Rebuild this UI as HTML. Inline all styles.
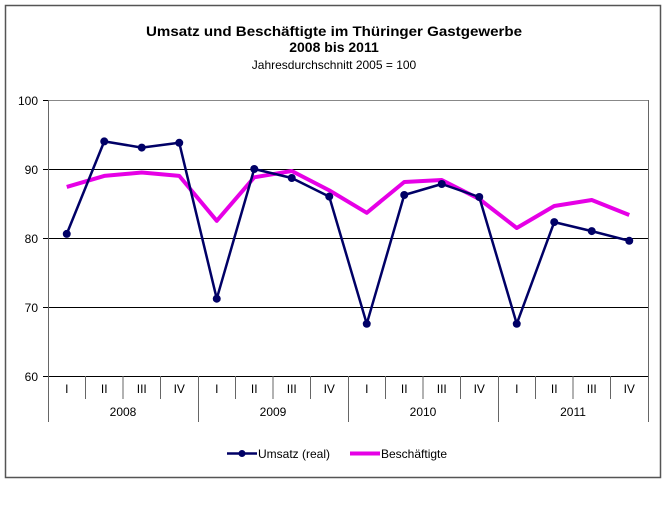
<!DOCTYPE html>
<html><head><meta charset="utf-8"><style>body{margin:0;background:#fff}svg{display:block;font-family:"Liberation Sans",Arial,sans-serif}</style></head><body>
<svg width="668" height="527" viewBox="0 0 668 527" xmlns="http://www.w3.org/2000/svg">
<rect x="5.5" y="5.5" width="655" height="472" fill="#fff" stroke="#555" stroke-width="1.5"/>
<text x="334" y="36" text-anchor="middle" font-size="14" font-weight="bold" textLength="376" lengthAdjust="spacingAndGlyphs">Umsatz und Beschäftigte im Thüringer Gastgewerbe</text>
<text x="334" y="52" text-anchor="middle" font-size="14" font-weight="bold">2008 bis 2011</text>
<text x="334" y="69" text-anchor="middle" font-size="12">Jahresdurchschnitt 2005 = 100</text>
<g stroke="#000" stroke-width="1">
<line x1="48" y1="100.5" x2="648" y2="100.5" stroke="#888"/>
<line x1="48" y1="169.5" x2="648" y2="169.5"/>
<line x1="48" y1="238.5" x2="648" y2="238.5"/>
<line x1="48" y1="307.5" x2="648" y2="307.5"/>
<line x1="48" y1="376.5" x2="648" y2="376.5"/>
<line x1="48.5" y1="100" x2="48.5" y2="422" stroke="#666"/>
<line x1="648.5" y1="100" x2="648.5" y2="422" stroke="#666"/>
<line x1="43" y1="100.5" x2="48" y2="100.5"/><line x1="43" y1="169.5" x2="48" y2="169.5"/><line x1="43" y1="238.5" x2="48" y2="238.5"/><line x1="43" y1="307.5" x2="48" y2="307.5"/><line x1="43" y1="376.5" x2="48" y2="376.5"/>
</g>
<g stroke="#666" stroke-width="1">
<line x1="85.5" y1="376" x2="85.5" y2="399"/><line x1="123" y1="376" x2="123" y2="399"/><line x1="160.5" y1="376" x2="160.5" y2="399"/>
<line x1="198.5" y1="376" x2="198.5" y2="422"/>
<line x1="235.5" y1="376" x2="235.5" y2="399"/><line x1="273" y1="376" x2="273" y2="399"/><line x1="310.5" y1="376" x2="310.5" y2="399"/>
<line x1="348.5" y1="376" x2="348.5" y2="422"/>
<line x1="385.5" y1="376" x2="385.5" y2="399"/><line x1="423" y1="376" x2="423" y2="399"/><line x1="460.5" y1="376" x2="460.5" y2="399"/>
<line x1="498.5" y1="376" x2="498.5" y2="422"/>
<line x1="535.5" y1="376" x2="535.5" y2="399"/><line x1="573" y1="376" x2="573" y2="399"/><line x1="610.5" y1="376" x2="610.5" y2="399"/>
</g>
<g font-size="12" text-anchor="end">
<text x="38" y="105">100</text><text x="38" y="174">90</text><text x="38" y="243">80</text><text x="38" y="312">70</text><text x="38" y="381">60</text>
</g>
<g font-size="12" text-anchor="middle">
<text x="66.75" y="393">I</text><text x="104.25" y="393">II</text><text x="141.75" y="393">III</text><text x="179.25" y="393">IV</text>
<text x="216.75" y="393">I</text><text x="254.25" y="393">II</text><text x="291.75" y="393">III</text><text x="329.25" y="393">IV</text>
<text x="366.75" y="393">I</text><text x="404.25" y="393">II</text><text x="441.75" y="393">III</text><text x="479.25" y="393">IV</text>
<text x="516.75" y="393">I</text><text x="554.25" y="393">II</text><text x="591.75" y="393">III</text><text x="629.25" y="393">IV</text>
<text x="123" y="416">2008</text><text x="273" y="416">2009</text><text x="423" y="416">2010</text><text x="573" y="416">2011</text>
</g>
<polyline fill="none" stroke="#e600e6" stroke-width="4" stroke-linejoin="round" points="66.75,186.9 104.25,175.9 141.75,172.5 179.25,175.9 216.75,220.8 254.25,177.3 291.75,171.0 329.25,190.4 366.75,212.8 404.25,182.0 441.75,180.0 479.25,199.0 516.75,228.0 554.25,206.0 591.75,200.0 629.25,215.0"/>
<polyline fill="none" stroke="#000066" stroke-width="2.5" stroke-linejoin="round" points="66.75,233.9 104.25,141.4 141.75,147.6 179.25,142.8 216.75,298.7 254.25,169.0 291.75,178.0 329.25,196.6 366.75,323.8 404.25,195.0 441.75,184.0 479.25,197.0 516.75,323.8 554.25,222.1 591.75,231.1 629.25,240.8"/>
<g fill="#000066">
<circle cx="66.75" cy="233.9" r="4"/><circle cx="104.25" cy="141.4" r="4"/><circle cx="141.75" cy="147.6" r="4"/><circle cx="179.25" cy="142.8" r="4"/><circle cx="216.75" cy="298.7" r="4"/><circle cx="254.25" cy="169.0" r="4"/><circle cx="291.75" cy="178.0" r="4"/><circle cx="329.25" cy="196.6" r="4"/><circle cx="366.75" cy="323.8" r="4"/><circle cx="404.25" cy="195.0" r="4"/><circle cx="441.75" cy="184.0" r="4"/><circle cx="479.25" cy="197.0" r="4"/><circle cx="516.75" cy="323.8" r="4"/><circle cx="554.25" cy="222.1" r="4"/><circle cx="591.75" cy="231.1" r="4"/><circle cx="629.25" cy="240.8" r="4"/>
</g>
<line x1="227" y1="453.5" x2="257" y2="453.5" stroke="#000066" stroke-width="2.5"/><circle cx="242" cy="453.5" r="3.5" fill="#000066"/>
<text x="258" y="458" font-size="12">Umsatz (real)</text>
<line x1="350" y1="453.5" x2="380" y2="453.5" stroke="#e600e6" stroke-width="4"/>
<text x="381" y="458" font-size="12">Beschäftigte</text>
</svg>
</body></html>
